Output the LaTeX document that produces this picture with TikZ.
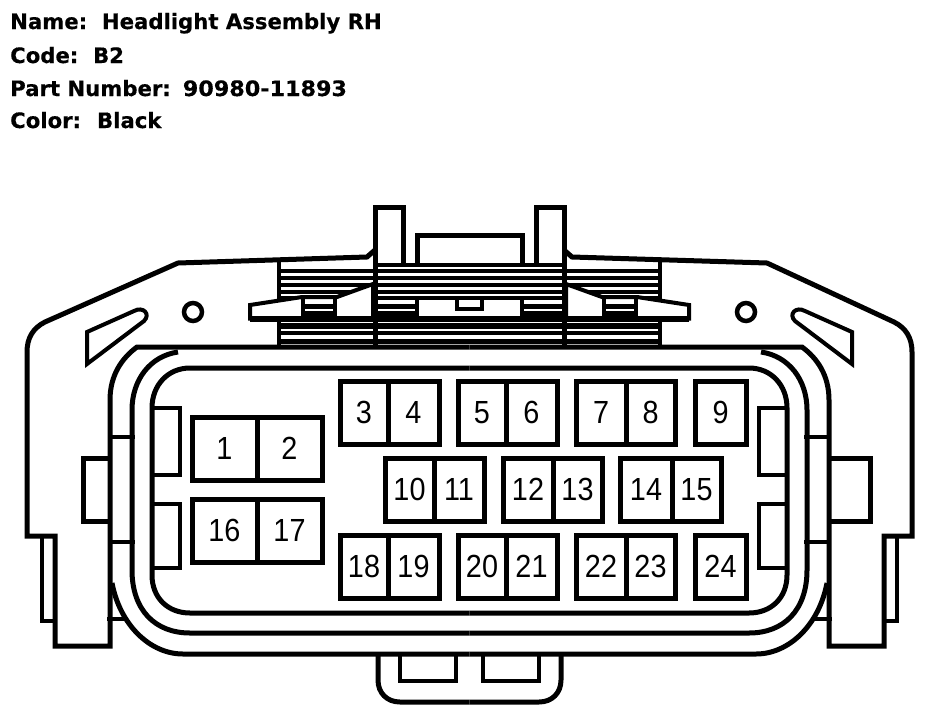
\documentclass[tikz,border=0pt]{standalone}
\usepackage{fontspec}
\setmainfont[FakeStretch=0.9]{Liberation Sans}
\newfontfamily\headfont[BoldFeatures={FakeBold=0.4}]{DejaVu Sans}
\tikzset{
  body/.style={line width=5pt},
  thin body/.style={line width=4pt},
  hatch/.style={line width=4pt},
  pinbox/.style={draw, line width=5pt, minimum height=63pt, inner sep=0pt, outer sep=0pt, text height=23pt, text depth=2pt, font=\fontsize{32}{32}\selectfont},
  headline/.style={anchor=base west, inner sep=0pt, font=\headfont\bfseries\fontsize{21.2}{21.2}\selectfont}
}
% #1 is where the shoulder bends, #2 the outer side of the side tab
\newcommand{\halfbody}[2]{
  % Draw shell and rings
  \draw[body] (375,250) -- (367,257) -- (#1,263) -- (45,322) .. controls (33,328) and (27,338) .. (27,352) -- (27,536) -- (55,536) -- (55,646) -- (110,646) -- (110,400) .. controls (110,375) and (122,358) .. (137,347) -- (469.5,347);
  \draw[body] (112,583) .. controls (120,625) and (150,654) .. (183,654) -- (469.5,654);
  \draw[body] (178,352) .. controls (150,356) and (132,380) .. (132,410) -- (132,570) .. controls (132,610) and (155,633) .. (190,633) -- (469.5,633);
  \draw[body] (469.5,368) -- (190,368) .. controls (168,368) and (152,385) .. (152,408) -- (152,575) .. controls (152,598) and (168,613) .. (190,613) -- (469.5,613);
  % Draw side tabs
  \draw[thin body] (55,621) -- (42,621) -- (42,536);
  \draw[body] (110,458) -- (#2,458) -- (#2,521) -- (110,521);
  \draw[thin body] (110,437) -- (135,437);
  \draw[thin body] (110,542) -- (135,542);
  \draw[thin body] (107,619) -- (128,619);
  \draw[thin body] (152,408) -- (180,408) -- (180,475) -- (152,475);
  \draw[thin body] (152,504) -- (180,504) -- (180,568) -- (152,568);
  % Draw window and hole
  \draw[thin body] (87,332) -- (134,311) .. controls (143,306) and (151,314) .. (144,321) -- (87,364) -- cycle;
  \draw[line width=4.5pt] (193,312) circle (9);
  % Draw hatching
  \foreach \hy in {271,278,285,292,298} {
    \draw[hatch] (279,\hy) -- (469.5,\hy);
  }
  \draw[hatch] (375,264.5) -- (469.5,264.5);
  \draw[line width=6pt] (279,326) -- (469.5,326);
  \draw[hatch] (279,333) -- (469.5,333);
  \draw[line width=5pt] (279,341.5) -- (469.5,341.5);
  \draw[thin body] (279,262) -- (279,347);
  % Draw latch
  \draw[thin body, fill=white] (373,284) -- (337,297) -- (302,297) -- (250,305) -- (250,318.5) -- (373,318.5) -- cycle;
  \draw[line width=6pt] (250,318.5) -- (469.5,318.5);
  \foreach \hx/\hw in {303/335,375/417} {
    \draw[line width=5pt] (\hx,306.5) -- (\hw,306.5);
    \draw[line width=5pt] (\hx,313) -- (\hw,313);
    \draw[thin body] (\hx,297) -- (\hx,318);
    \draw[thin body] (\hw,297) -- (\hw,318);
  }
  \draw[thin body] (457,298) -- (457,309) -- (469.5,309);
  % Draw pegs
  \draw[line width=5pt] (375,347) -- (375,207) -- (403,207) -- (403,264);
  \draw[line width=5pt] (417,264) -- (417,235) -- (469.5,235);
  % Draw bottom tab
  \draw[body] (378,654) -- (378,680) .. controls (378,693) and (387,702) .. (400,702) -- (469.5,702);
  \draw[thin body] (400,654) -- (400,681) -- (456,681) -- (456,654);
}

\begin{document}
\begin{tikzpicture}[x=1pt,y=-1pt]
  \useasboundingbox (0,0) rectangle (944,720);
  \fill[white] (0,0) rectangle (944,720);
  % Draw header
  \node[headline] (name) at (10,29) {Name:~~Headlight Assembly RH};
  \node[headline] (code) at (10,63) {Code:~~B2};
  \node[headline] (part) at (10,96) {Part Number:\hspace{12pt}{\addfontfeature{FakeStretch=1.05}90980-11893}};
  \node[headline] (color) at (10,128) {Color:\hspace{16pt}Black};
  % Draw both halves
  \begin{scope}
    \halfbody{178}{83}
  \end{scope}
  \begin{scope}[xshift=939pt,xscale=-1]
    \halfbody{172}{69}
  \end{scope}
  % Draw pins
  \node[pinbox, minimum width=65pt] (p1) at (224.5,449) {1};
  \node[pinbox, minimum width=65pt] (p2) at (289.5,449) {2};
  \node[pinbox, minimum width=48pt] (p3) at (364,413) {3};
  \node[pinbox, minimum width=51pt] (p4) at (413.5,413) {4};
  \node[pinbox, minimum width=48pt] (p5) at (482,413) {5};
  \node[pinbox, minimum width=51pt] (p6) at (531.5,413) {6};
  \node[pinbox, minimum width=50pt] (p7) at (601,413) {7};
  \node[pinbox, minimum width=49pt] (p8) at (650.5,413) {8};
  \node[pinbox, minimum width=51pt] (p9) at (720.5,413) {9};
  \node[pinbox, minimum width=49pt] (p10) at (409.5,490) {10};
  \node[pinbox, minimum width=50pt] (p11) at (459,490) {11};
  \node[pinbox, minimum width=50pt] (p12) at (528,490) {12};
  \node[pinbox, minimum width=49pt] (p13) at (577.5,490) {13};
  \node[pinbox, minimum width=52pt] (p14) at (646,490) {14};
  \node[pinbox, minimum width=49pt] (p15) at (696.5,490) {15};
  \node[pinbox, minimum width=65pt] (p16) at (224.5,531) {16};
  \node[pinbox, minimum width=65pt] (p17) at (289.5,531) {17};
  \node[pinbox, minimum width=48pt] (p18) at (364,566.5) {18};
  \node[pinbox, minimum width=51pt] (p19) at (413.5,566.5) {19};
  \node[pinbox, minimum width=48pt] (p20) at (482,566.5) {20};
  \node[pinbox, minimum width=51pt] (p21) at (531.5,566.5) {21};
  \node[pinbox, minimum width=50pt] (p22) at (601,566.5) {22};
  \node[pinbox, minimum width=49pt] (p23) at (650.5,566.5) {23};
  \node[pinbox, minimum width=51pt] (p24) at (720.5,566.5) {24};
\end{tikzpicture}
\end{document}
